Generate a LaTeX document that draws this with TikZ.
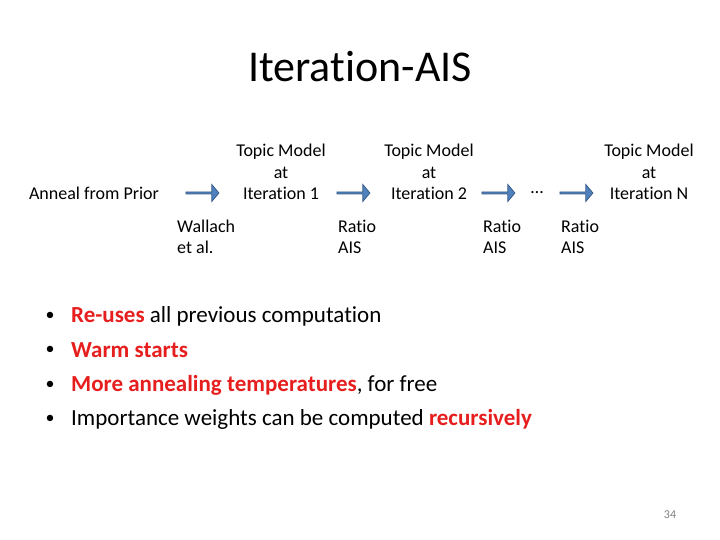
\documentclass[tikz,border=0pt]{standalone}
\usepackage{fontspec}
\setmainfont[RawFeature=-liga]{Carlito}
\usetikzlibrary{shapes.arrows}
\definecolor{arrowfill}{RGB}{79,129,189}
\definecolor{arrowline}{RGB}{56,93,138}
\definecolor{hot}{RGB}{230,30,30}
\begin{document}
\begin{tikzpicture}[x=1pt,y=-1pt]
\tikzstyle{step arrow} = [draw=arrowline, fill=arrowfill, line width=0.8pt, single arrow, single arrow head extend=3pt, minimum height=33pt, minimum width=17pt, inner sep=0pt, single arrow tip angle=100]
\tikzstyle{model label} = [font=\fontsize{18}{21.5}\selectfont, align=center, anchor=center]
\tikzstyle{small label} = [font=\fontsize{18}{21}\selectfont, align=left, anchor=north west, inner sep=0pt]
\tikzstyle{bullet line} = [font=\fontsize{23}{28}\selectfont, anchor=west, inner sep=0pt]
\tikzstyle{bullet dot} = [font=\fontsize{18}{28}\selectfont, inner sep=0pt]
\useasboundingbox (0,0) rectangle (720,540);
\node[font=\fontsize{44}{50}\selectfont] (title) at (360,67) {Iteration-AIS};
\node[model label] (prior) at (94,193) {Anneal from Prior};
\node[model label] (m_1) at (281,172) {Topic Model\\at\\Iteration 1};
\node[model label] (m_2) at (429,172) {Topic Model\\at\\Iteration 2};
\node[model label] (dots) at (537,193) {\dots};
\node[model label] (m_n) at (649,172) {Topic Model\\at\\Iteration N};
\node[step arrow] (a_1) at (202,193) {};
\node[step arrow] (a_2) at (353,193) {};
\node[step arrow] (a_3) at (498,193) {};
\node[step arrow] (a_4) at (576,193) {};
\node[small label] (l_1) at (177,220) {Wallach\\et al.};
\node[small label] (l_2) at (338,220) {Ratio\\AIS};
\node[small label] (l_3) at (483,220) {Ratio\\AIS};
\node[small label] (l_4) at (561,220) {Ratio\\AIS};
\foreach \y [count=\i] in {316,350,385,419}
  \node[bullet dot] (d_\i) at (50,\y) {\textbullet};
\node[bullet line] (b_1) at (71,316) {\textcolor{hot}{\textbf{Re-uses}} all previous computation};
\node[bullet line] (b_2) at (71,350) {\textcolor{hot}{\textbf{Warm starts}}};
\node[bullet line] (b_3) at (71,385) {\textcolor{hot}{\textbf{More annealing temperatures}}, for free};
\node[bullet line] (b_4) at (71,419) {Importance weights can be computed \textcolor{hot}{\textbf{recursively}}};
\node[font=\fontsize{12}{14}\selectfont, text=gray] (page) at (670,515) {34};
\end{tikzpicture}
\end{document}
